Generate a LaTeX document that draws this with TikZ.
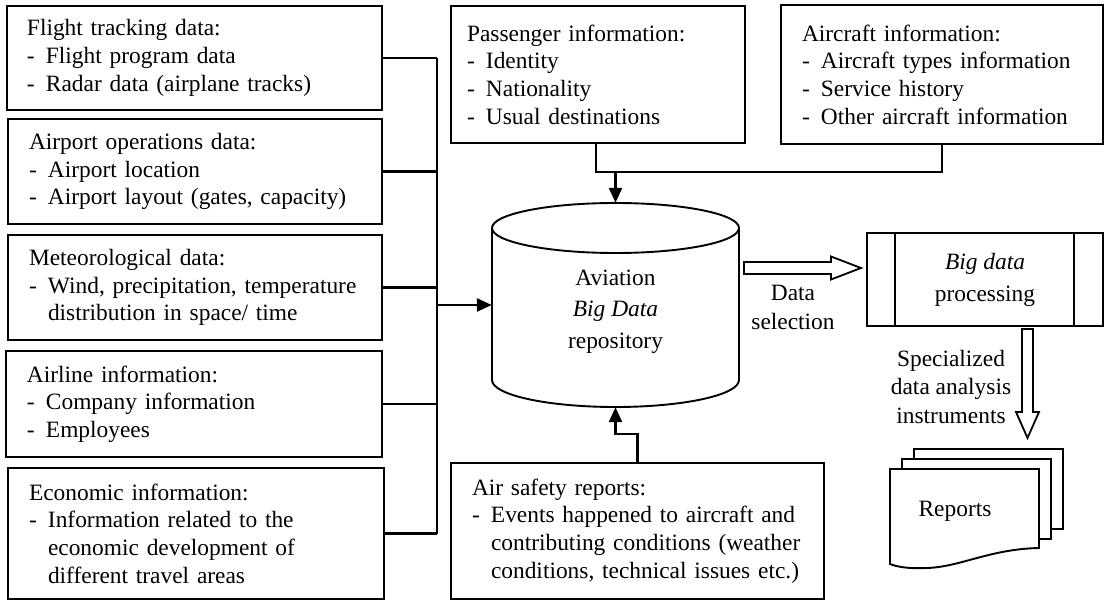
\documentclass[tikz,border=0pt]{standalone}
\usepackage{fontspec}
\setmainfont{Liberation Serif}
\usetikzlibrary{calc,arrows.meta}
\newcommand{\dashitem}[1]{\mbox{\makebox[19pt][l]{-}#1}}
\newcommand{\contind}[1]{\mbox{\hspace*{19pt}#1}}
\begin{document}
\begin{tikzpicture}[x=1pt,y=-1pt,
  txt/.style={font=\fontsize{23.4}{27.7}\selectfont},
  box/.style={txt,draw,line width=1.9pt,align=left,anchor=center,inner ysep=0pt},
  conn/.style={line width=2.6pt},
  tip/.style={-{Triangle[length=15pt,width=13pt]}},
  hollow/.style={draw,line width=1.8pt,fill=white,line join=miter},
  docshape/.style={draw,line width=1.9pt,fill=white}]
\useasboundingbox (0,0) rectangle (1105,601);

% left boxes
\node[box, text width=335pt, inner xsep=20pt, minimum height=104pt] (b1) at (194.5,58)
  {Flight tracking data:\\ \dashitem{Flight program data}\\ \dashitem{Radar data (airplane tracks)}};
\node[box, text width=332pt, inner xsep=21pt, minimum height=105pt] (b2) at (195,171.5)
  {Airport operations data:\\ \dashitem{Airport location}\\ \dashitem{Airport layout (gates, capacity)}};
\node[box, text width=332pt, inner xsep=21pt, minimum height=105pt] (b3) at (195,287.5)
  {Meteorological data:\\ \dashitem{Wind, precipitation, temperature}\\ \contind{distribution in space/ time}};
\node[box, text width=334pt, inner xsep=21pt, minimum height=106pt] (b4) at (194,404)
  {Airline information:\\ \dashitem{Company information}\\ \dashitem{Employees}};
\node[box, text width=334pt, inner xsep=21pt, minimum height=131pt] (b5) at (196,533.5)
  {Economic information:\\ \dashitem{Information related to the}\\ \contind{economic development of}\\ \contind{different travel areas}};

% top boxes
\node[box, text width=262pt, inner xsep=16pt, minimum height=137pt] (p) at (598,74.5)
  {Passenger information:\\ \dashitem{Identity}\\ \dashitem{Nationality}\\ \dashitem{Usual destinations}};
\node[box, text width=280pt, inner xsep=21pt, minimum height=139pt] (a) at (942,74.5)
  {Aircraft information:\\ \dashitem{Aircraft types information}\\ \dashitem{Service history}\\ \dashitem{Other aircraft information}};

% bottom box
\node[box, text width=331pt, inner xsep=21pt, minimum height=136pt] (s) at (637.5,531)
  {Air safety reports:\\ \dashitem{Events happened to aircraft and}\\ \contind{contributing conditions (weather}\\ \contind{conditions, technical issues etc.)}};

% cylinder repository
\node[minimum width=247pt, minimum height=204pt, inner sep=0pt] (cyl) at (615.5,305) {};
\draw[line width=1.9pt] (615.5,228) ellipse [x radius=123.5, y radius=25];
\draw[line width=1.9pt] (492,228) -- (492,380) arc[start angle=180, end angle=0, x radius=123.5, y radius=27] -- (739,228);
\node[txt, align=center, font=\fontsize{23.4}{31.5}\selectfont] (cyltext) at (615.5,311.5)
  {Aviation\\ \textit{Big Data}\\ repository};

% big data processing
\node[txt, draw, line width=1.9pt, minimum width=236pt, minimum height=93pt, align=center,
  font=\fontsize{23.4}{32}\selectfont] (bd) at (985,279.5) {\textit{Big data}\\ processing};
\draw[line width=1.9pt] ($(bd.north west)+(29,0)$) -- ($(bd.south west)+(29,0)$);
\draw[line width=1.9pt] ($(bd.north east)+(-30,0)$) -- ($(bd.south east)+(-30,0)$);

% reports stack
\draw[docshape] (914,449) rectangle (1063,529);
\draw[docshape] (902,459) rectangle (1051,539);
\draw[docshape] (890,469) -- (1039,469) -- (1039,548)
  .. controls (990,549) and (960,567) .. (927,568)
  .. controls (905,569) and (895,566) .. (890,564) -- cycle;
\node[txt] (rep) at (955,511) {Reports};

% labels
\node[txt, align=center, font=\fontsize{23.4}{29}\selectfont] (ds) at (793,307.5) {Data\\ selection};
\node[txt, align=center, font=\fontsize{23.4}{28.5}\selectfont] (sp) at (951,386.5) {Specialized\\ data analysis\\ instruments};

% left bus
\coordinate (bus) at (437,0);
\foreach \n in {b1,b2,b3,b4,b5}
  \draw[conn] (\n.east) -- (\n.east -| bus);
\draw[conn] (b1.east -| bus) -- (b5.east -| bus);
\draw[conn,tip] (cyl.west -| bus) -- (cyl.west);

% top join
\coordinate (j) at (615.5,172);
\draw[conn] ($(p.south)+(-2,0)$) |- (j) -| (a.south);
\draw[conn,tip] (j) -- (cyl.north);

% bottom connector
\draw[conn,tip] (s.north) -- ++(0,-28) -| (cyl.south);

% hollow arrow: data selection
\coordinate (h1) at (744,268);
\coordinate (h2) at (861,268);
\draw[hollow] ($(h1)+(0,-6)$) -- ($(h2)+(-30,-6)$) -- ($(h2)+(-30,-11.5)$) -- (h2)
  -- ($(h2)+(-30,11.5)$) -- ($(h2)+(-30,6)$) -- ($(h1)+(0,6)$) -- cycle;

% hollow arrow: down to reports
\coordinate (v1) at (1027.5,329);
\coordinate (v2) at (1027.5,438);
\draw[hollow] ($(v1)+(-5.5,0)$) -- ($(v2)+(-5.5,-26)$) -- ($(v2)+(-11.5,-26)$) -- (v2)
  -- ($(v2)+(11.5,-26)$) -- ($(v2)+(5.5,-26)$) -- ($(v1)+(5.5,0)$) -- cycle;
\end{tikzpicture}
\end{document}
